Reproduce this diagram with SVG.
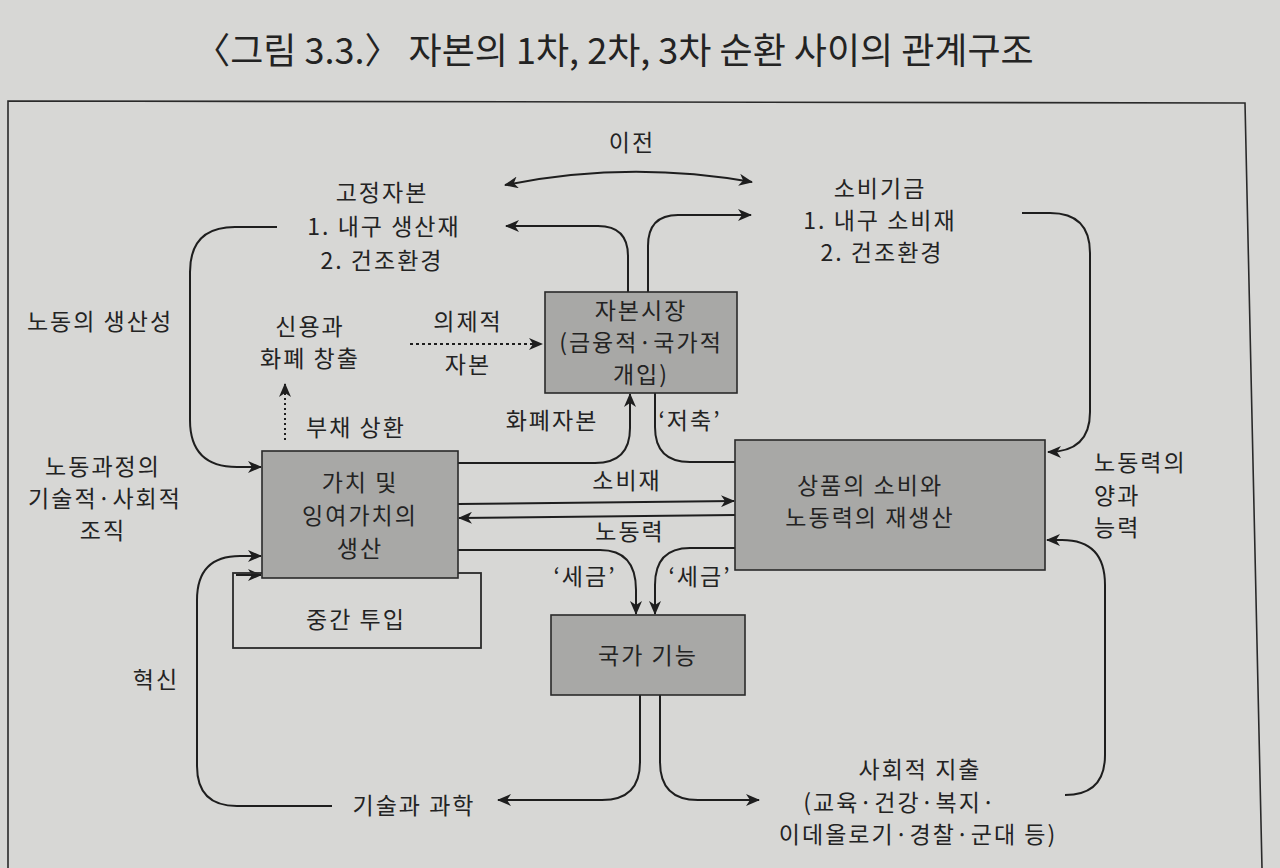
<svg xmlns="http://www.w3.org/2000/svg" width="1280" height="868" viewBox="0 0 1280 868">
<defs>
<style>
text{font-family:"Noto Sans CJK KR","Noto Sans",sans-serif;fill:#232323;font-size:23px;letter-spacing:2px;text-anchor:middle}
.title{font-size:36px;letter-spacing:0}
.box{fill:#a8a8a6;stroke:#2a2a2a;stroke-width:1.6}
.c{fill:none;stroke:#1e1e1e;stroke-width:2}
.frame{fill:none;stroke:#2a2a2a;stroke-width:1.6}
</style>
<marker id="ah" viewBox="0 0 14 12" refX="13" refY="6" markerWidth="14" markerHeight="12" markerUnits="userSpaceOnUse" orient="auto-start-reverse">
<path d="M0,0 L14,6 L0,12 L4,6 z" fill="#1e1e1e"/>
</marker>
</defs>
<rect width="1280" height="868" fill="#d7d7d5"/>
<text class="title" x="614" y="64">〈그림 3.3.〉 자본의 1차, 2차, 3차 순환 사이의 관계구조</text>
<path class="frame" d="M8,868 L8,101 L1245,103 L1262,868"/>

<g id="connectors">
<path class="c" d="M505,185 Q628,160 752,182" marker-start="url(#ah)" marker-end="url(#ah)"/>
<path class="c" d="M628,292 L628,256 Q628,226 598,226 L506,226" marker-end="url(#ah)"/>
<path class="c" d="M648,292 L648,246 Q648,215 678,215 L751,215" marker-end="url(#ah)"/>
<path class="c" d="M277,227 L235,227 Q190,227 190,272 L190,420 Q190,467 237,467 L261,467" marker-end="url(#ah)"/>
<path class="c" d="M1022,213 L1050,213 Q1090,213 1090,253 L1090,412 Q1090,452 1048,452" marker-end="url(#ah)"/>
<path class="c" d="M1065,795 Q1105,795 1105,755 L1105,585 Q1105,540 1062,540 L1047,540" marker-end="url(#ah)"/>
<path class="c" d="M332,806 L237,806 Q197,806 197,766 L197,600 Q197,556 240,556 L261,556" marker-end="url(#ah)"/>
<path class="c" d="M236,575 L261,575" marker-end="url(#ah)"/>
<path class="c" d="M458,463 L595,463 Q630,463 630,428 L630,394" marker-end="url(#ah)"/>
<path class="c" d="M735,462 L690,462 Q655,462 655,427 L655,393"/>
<path class="c" d="M458,504 L734,501" marker-end="url(#ah)"/>
<path class="c" d="M735,515 L459,518" marker-end="url(#ah)"/>
<path class="c" d="M458,550 L600,550 Q636,550 636,590 L636,614" marker-end="url(#ah)"/>
<path class="c" d="M735,548 L690,548 Q655,548 655,585 L655,614" marker-end="url(#ah)"/>
<path class="c" d="M640,695 L640,762 Q640,800 602,800 L498,800" marker-end="url(#ah)"/>
<path class="c" d="M660,695 L660,762 Q660,800 698,800 L759,800" marker-end="url(#ah)"/>
<path class="c" d="M410,344 L542,344" stroke-dasharray="3,3" stroke-width="1.6" marker-end="url(#ah)"/>
<path class="c" d="M285,440 L285,384" stroke-dasharray="2,3" stroke-width="1.6" marker-end="url(#ah)"/>
</g>

<g id="intermediate">
<rect x="233" y="573" width="248" height="75" fill="none" stroke="#2a2a2a" stroke-width="1.8"/>
<text x="356" y="628">중간 투입</text>
</g>

<g id="production">
<rect class="box" x="262" y="451" width="196" height="127"/>
<text x="360" y="491">가치 및</text>
<text x="360" y="524">잉여가치의</text>
<text x="360" y="557">생산</text>
</g>

<g id="capital-market">
<rect class="box" x="545" y="292" width="192" height="101"/>
<text x="641" y="319">자본시장</text>
<text x="641" y="351">(금융적·국가적</text>
<text x="641" y="383">개입)</text>
</g>

<g id="consumption">
<rect class="box" x="735" y="440" width="310" height="130"/>
<text x="870" y="494">상품의 소비와</text>
<text x="870" y="526">노동력의 재생산</text>
</g>

<g id="state">
<rect class="box" x="551" y="615" width="194" height="80"/>
<text x="648" y="664">국가 기능</text>
</g>

<g id="fixed-capital">
<text x="382" y="201">고정자본</text>
<text x="384" y="235">1. 내구 생산재</text>
<text x="382" y="269">2. 건조환경</text>
</g>

<g id="consumption-fund">
<text x="880" y="197">소비기금</text>
<text x="880" y="229">1. 내구 소비재</text>
<text x="882" y="261">2. 건조환경</text>
</g>

<g id="social-expenditure">
<text x="920" y="778">사회적 지출</text>
<text x="900" y="811">(교육·건강·복지·</text>
<text x="918" y="843">이데올로기·경찰·군대 등)</text>
</g>

<g id="labels">
<text x="632" y="151">이전</text>
<text x="310" y="335">신용과</text>
<text x="310" y="367">화폐 창출</text>
<text x="468" y="330">의제적</text>
<text x="468" y="373">자본</text>
<text x="356" y="436">부채 상환</text>
<text x="552" y="429">화폐자본</text>
<text x="690" y="429">‘저축’</text>
<text x="100" y="330">노동의 생산성</text>
<text x="103" y="475">노동과정의</text>
<text x="105" y="507">기술적·사회적</text>
<text x="103" y="539">조직</text>
<text x="627" y="489">소비재</text>
<text x="630" y="540">노동력</text>
<text x="585" y="585">‘세금’</text>
<text x="700" y="585">‘세금’</text>
<text x="156" y="688">혁신</text>
<text x="414" y="814">기술과 과학</text>
<text x="1094" y="471" style="text-anchor:start">노동력의</text>
<text x="1094" y="504" style="text-anchor:start">양과</text>
<text x="1094" y="536" style="text-anchor:start">능력</text>
</g>
</svg>
